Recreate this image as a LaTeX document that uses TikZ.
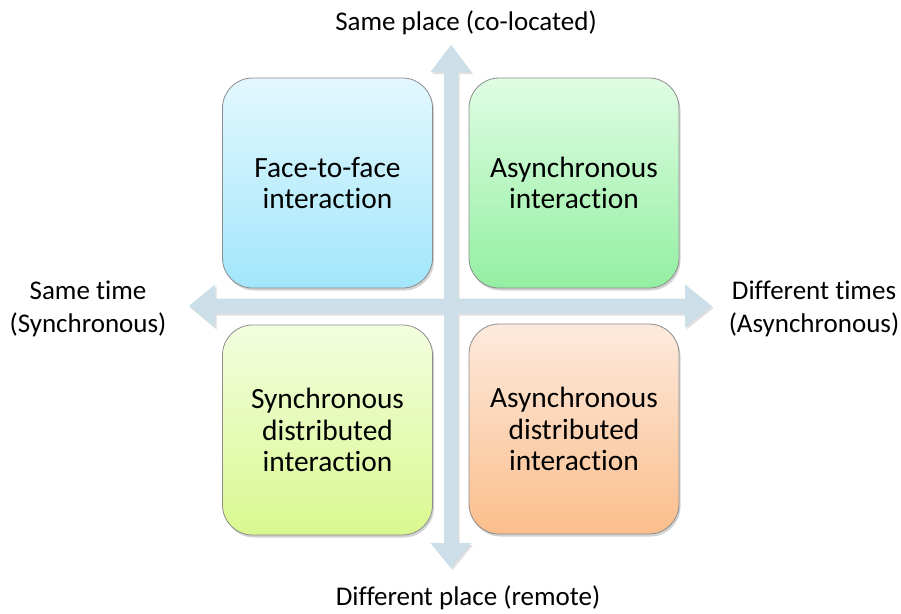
\documentclass[tikz,border=0pt]{standalone}
\usepackage{fontspec}
\setmainfont[Ligatures={NoCommon,NoContextual,NoRequired}]{Carlito}
\usetikzlibrary{shadows}
% keeps "t" and "i" as separate letters
\newcommand{\tsep}{t\kern0pt i}
\definecolor{axisblue}{HTML}{CCDEE7}
\definecolor{boxline}{HTML}{8C8C8C}
\definecolor{ftfTop}{HTML}{E2F8FE}\definecolor{ftfBot}{HTML}{A2E6FB}
\definecolor{asyTop}{HTML}{E0FDE3}\definecolor{asyBot}{HTML}{93EFA2}
\definecolor{sdiTop}{HTML}{F3FEDF}\definecolor{sdiBot}{HTML}{D9F88F}
\definecolor{adiTop}{HTML}{FDEADD}\definecolor{adiBot}{HTML}{FBBE8C}
\tikzset{
  cell/.style={draw=boxline, line width=0.8pt, rounded corners=30pt,
    minimum width=210pt, minimum height=210pt, align=center,
    font=\fontsize{29.4}{31.5}\selectfont,
    drop shadow={shadow xshift=1.5pt, shadow yshift=-2.5pt, opacity=0.35}},
  axislabel/.style={align=center, font=\fontsize{27}{33}\selectfont},
  axisarrow/.style={fill=axisblue,
    drop shadow={shadow xshift=1.5pt, shadow yshift=-2pt, opacity=0.25}}
}
\begin{document}
\begin{tikzpicture}[x=1pt, y=-1pt]
\useasboundingbox (0,0) rectangle (901,613);
% the two axes, drawn as one filled outline
\fill[axisarrow]
  (451,45) -- (471.5,72) -- (458,72) -- (458,298.5) -- (685,298.5) -- (685,284.5)
  -- (712,306) -- (685,327.5) -- (685,313.5) -- (458,313.5) -- (458,543)
  -- (471.5,543) -- (451,568) -- (430.5,543) -- (444,543) -- (444,313.5)
  -- (215,313.5) -- (215,327.5) -- (189,306) -- (215,284.5) -- (215,298.5)
  -- (444,298.5) -- (444,72) -- (430.5,72) -- cycle;
% four quadrants
\node[cell, top color=ftfTop, bottom color=ftfBot] (ftf) at (327.5,183) {Face-to-face\\interac\tsep on};
\node[cell, top color=asyTop, bottom color=asyBot] (asy) at (574,183) {Asynchronous\\interac\tsep on};
\node[cell, top color=sdiTop, bottom color=sdiBot] (sdi) at (327.5,430) {Synchronous\\distributed\\interac\tsep on};
\node[cell, top color=adiTop, bottom color=adiBot] (adi) at (574,429) {Asynchronous\\distributed\\interac\tsep on};
% axis labels
\node[axislabel] (top) at (466,23) {Same place (co-located)};
\node[axislabel] (bottom) at (468,598) {Different place (remote)};
\node[axislabel] (left) at (88,309) {Same \tsep me\\(Synchronous)};
\node[axislabel] (right) at (814,309) {Different \tsep mes\\(Asynchronous)};
\end{tikzpicture}
\end{document}
